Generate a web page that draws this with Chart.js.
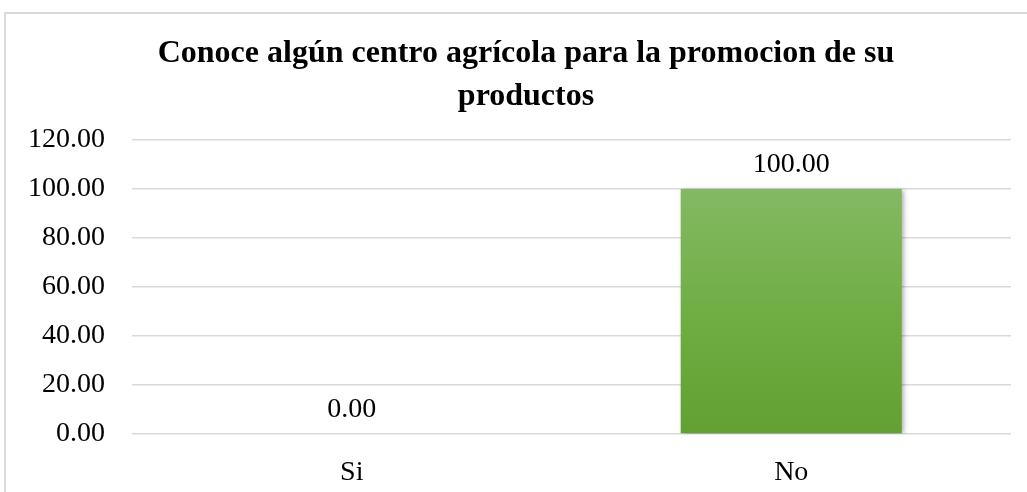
<!DOCTYPE html>
<html>
<head>
<meta charset="utf-8">
<script src="https://cdn.jsdelivr.net/npm/chart.js@4"></script>
<style>
  html, body { margin: 0; padding: 0; background: #fff; }
  #wrap { position: relative; width: 1027px; height: 492px; overflow: hidden; }
  #frame { position: absolute; left: 4px; top: 12px; width: 1100px; height: 600px; border: 2px solid #d9d9d9; box-sizing: border-box; }
  canvas { position: absolute; left: 0; top: 0; }
</style>
</head>
<body>
<div id="wrap">
  <div id="frame"></div>
  <canvas id="c" width="1027" height="492"></canvas>
</div>
<script>
const titleLines = ['Conoce algún centro agrícola para la promocion de su', 'productos'];
const categories = ['Si', 'No'];
const values = [0, 100];
const yTicks = [0, 20, 40, 60, 80, 100, 120];

const FONT = '"Liberation Serif", "Times New Roman", serif';

const shadowPlugin = {
  id: 'barShadow',
  beforeDatasetsDraw(chart) {
    const ctx = chart.ctx;
    ctx.save();
    ctx.shadowColor = 'rgba(0,0,0,0.35)';
    ctx.shadowBlur = 5;
    ctx.shadowOffsetX = 2;
    ctx.shadowOffsetY = 1;
  },
  afterDatasetsDraw(chart) {
    chart.ctx.restore();
  }
};

const labelPlugin = {
  id: 'valueLabels',
  afterDraw(chart) {
    const ctx = chart.ctx;
    const meta = chart.getDatasetMeta(0);
    ctx.save();
    ctx.font = '28px ' + FONT;
    ctx.fillStyle = '#000';
    ctx.textAlign = 'center';
    ctx.textBaseline = 'alphabetic';
    meta.data.forEach((bar, i) => {
      ctx.fillText(values[i].toFixed(2), bar.x, bar.y - 17);
    });
    // title
    ctx.font = 'bold 32px ' + FONT;
    const cx = 526;
    const baselines = [62, 105];
    titleLines.forEach((t, i) => ctx.fillText(t, cx, baselines[i]));
    ctx.restore();
  }
};

new Chart(document.getElementById('c'), {
  type: 'bar',
  data: {
    labels: categories,
    datasets: [{
      data: values,
      backgroundColor(context) {
        const chart = context.chart;
        const area = chart.chartArea;
        if (!area) return '#70ad47';
        const yTop = chart.scales.y.getPixelForValue(100);
        const g = chart.ctx.createLinearGradient(0, yTop, 0, area.bottom);
        g.addColorStop(0, '#84b964');
        g.addColorStop(0.5, '#70ae44');
        g.addColorStop(1, '#62a033');
        return g;
      },
      borderWidth: 0,
      barPercentage: 0.503,
      categoryPercentage: 1.0
    }]
  },
  options: {
    responsive: false,
    animation: false,
    events: [],
    layout: { padding: { top: 140, left: 0, right: 16, bottom: 0 } },
    plugins: {
      legend: { display: false },
      tooltip: { enabled: false },
      title: { display: false }
    },
    scales: {
      x: {
        grid: { display: false },
        border: { display: false },
        ticks: {
          color: '#000',
          font: { family: FONT, size: 28 },
          padding: 14
        },
        afterFit(scale) { scale.height = 58; }
      },
      y: {
        min: 0,
        max: 120,
        afterBuildTicks(scale) { scale.ticks = yTicks.map(v => ({ value: v })); },
        grid: { color: '#d9d9d9', lineWidth: 1.5, drawTicks: false },
        border: { display: false },
        ticks: {
          color: '#000',
          font: { family: FONT, size: 28 },
          padding: 27,
          callback: v => Number(v).toFixed(2)
        },
        afterFit(scale) { scale.width = 132; }
      }
    }
  },
  plugins: [shadowPlugin, labelPlugin]
});
</script>
</body>
</html>
